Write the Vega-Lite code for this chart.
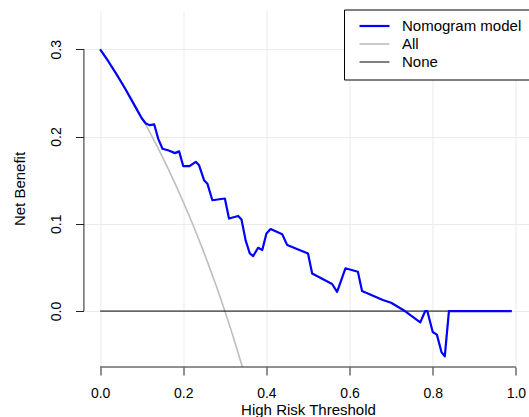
{
  "$schema": "https://vega.github.io/schema/vega-lite/v6.json",
  "width": 449,
  "height": 357,
  "autosize": {"type": "none"},
  "padding": {"left": 83.5, "top": 10, "right": 0, "bottom": 50},
  "background": "white",
  "config": {
    "view": {"stroke": null},
    "font": "Liberation Sans",
    "axis": {
      "domain": false,
      "tickColor": "#222222",
      "tickSize": 8,
      "labelFontSize": 14,
      "labelColor": "#000000",
      "labelFont": "Liberation Sans",
      "titleFont": "Liberation Sans",
      "titleFontSize": 15,
      "titleFontWeight": "normal",
      "titleColor": "#000000",
      "gridColor": "#ebebeb",
      "gridWidth": 1
    },
    "legend": {
      "orient": "none",
      "legendX": 260.5,
      "legendY": -0.5,
      "strokeColor": "#000000",
      "fillColor": "#ffffff",
      "padding": 9,
      "symbolOffset": 14,
      "symbolSize": 100,
      "symbolType": "M-3,0H3",
      "labelFontSize": 15,
      "labelFont": "Liberation Sans",
      "labelColor": "#000000",
      "labelOffset": 20,
      "rowPadding": 2,
      "cornerRadius": 0
    }
  },
  "data": {
    "values": [
      {"series": "All", "t": 0.00, "nb": 0.30000},
      {"series": "All", "t": 0.01, "nb": 0.29293},
      {"series": "All", "t": 0.02, "nb": 0.28571},
      {"series": "All", "t": 0.03, "nb": 0.27835},
      {"series": "All", "t": 0.04, "nb": 0.27083},
      {"series": "All", "t": 0.05, "nb": 0.26316},
      {"series": "All", "t": 0.06, "nb": 0.25532},
      {"series": "All", "t": 0.07, "nb": 0.24731},
      {"series": "All", "t": 0.08, "nb": 0.23913},
      {"series": "All", "t": 0.09, "nb": 0.23077},
      {"series": "All", "t": 0.10, "nb": 0.22222},
      {"series": "All", "t": 0.11, "nb": 0.21348},
      {"series": "All", "t": 0.12, "nb": 0.20455},
      {"series": "All", "t": 0.13, "nb": 0.19540},
      {"series": "All", "t": 0.14, "nb": 0.18605},
      {"series": "All", "t": 0.15, "nb": 0.17647},
      {"series": "All", "t": 0.16, "nb": 0.16667},
      {"series": "All", "t": 0.17, "nb": 0.15663},
      {"series": "All", "t": 0.18, "nb": 0.14634},
      {"series": "All", "t": 0.19, "nb": 0.13580},
      {"series": "All", "t": 0.20, "nb": 0.12500},
      {"series": "All", "t": 0.21, "nb": 0.11392},
      {"series": "All", "t": 0.22, "nb": 0.10256},
      {"series": "All", "t": 0.23, "nb": 0.09091},
      {"series": "All", "t": 0.24, "nb": 0.07895},
      {"series": "All", "t": 0.25, "nb": 0.06667},
      {"series": "All", "t": 0.26, "nb": 0.05405},
      {"series": "All", "t": 0.27, "nb": 0.04110},
      {"series": "All", "t": 0.28, "nb": 0.02778},
      {"series": "All", "t": 0.29, "nb": 0.01408},
      {"series": "All", "t": 0.30, "nb": 0.00000},
      {"series": "All", "t": 0.31, "nb": -0.01449},
      {"series": "All", "t": 0.32, "nb": -0.02941},
      {"series": "All", "t": 0.33, "nb": -0.04478},
      {"series": "All", "t": 0.34, "nb": -0.06061},
      {"series": "All", "t": 0.35, "nb": -0.07692},
      {"series": "None", "t": 0.00, "nb": 0},
      {"series": "None", "t": 0.99, "nb": 0},
      {"series": "Nomogram model", "t": 0.00, "nb": 0.300},
      {"series": "Nomogram model", "t": 0.02, "nb": 0.286},
      {"series": "Nomogram model", "t": 0.04, "nb": 0.271},
      {"series": "Nomogram model", "t": 0.06, "nb": 0.255},
      {"series": "Nomogram model", "t": 0.08, "nb": 0.238},
      {"series": "Nomogram model", "t": 0.10, "nb": 0.221},
      {"series": "Nomogram model", "t": 0.11, "nb": 0.215},
      {"series": "Nomogram model", "t": 0.12, "nb": 0.213},
      {"series": "Nomogram model", "t": 0.13, "nb": 0.214},
      {"series": "Nomogram model", "t": 0.14, "nb": 0.197},
      {"series": "Nomogram model", "t": 0.15, "nb": 0.186},
      {"series": "Nomogram model", "t": 0.165, "nb": 0.184},
      {"series": "Nomogram model", "t": 0.18, "nb": 0.181},
      {"series": "Nomogram model", "t": 0.19, "nb": 0.183},
      {"series": "Nomogram model", "t": 0.20, "nb": 0.166},
      {"series": "Nomogram model", "t": 0.215, "nb": 0.166},
      {"series": "Nomogram model", "t": 0.23, "nb": 0.171},
      {"series": "Nomogram model", "t": 0.238, "nb": 0.167},
      {"series": "Nomogram model", "t": 0.25, "nb": 0.150},
      {"series": "Nomogram model", "t": 0.258, "nb": 0.146},
      {"series": "Nomogram model", "t": 0.27, "nb": 0.127},
      {"series": "Nomogram model", "t": 0.30, "nb": 0.129},
      {"series": "Nomogram model", "t": 0.31, "nb": 0.106},
      {"series": "Nomogram model", "t": 0.332, "nb": 0.109},
      {"series": "Nomogram model", "t": 0.34, "nb": 0.105},
      {"series": "Nomogram model", "t": 0.35, "nb": 0.081},
      {"series": "Nomogram model", "t": 0.36, "nb": 0.066},
      {"series": "Nomogram model", "t": 0.368, "nb": 0.063},
      {"series": "Nomogram model", "t": 0.38, "nb": 0.0725},
      {"series": "Nomogram model", "t": 0.39, "nb": 0.070},
      {"series": "Nomogram model", "t": 0.40, "nb": 0.089},
      {"series": "Nomogram model", "t": 0.41, "nb": 0.094},
      {"series": "Nomogram model", "t": 0.438, "nb": 0.088},
      {"series": "Nomogram model", "t": 0.45, "nb": 0.0756},
      {"series": "Nomogram model", "t": 0.50, "nb": 0.066},
      {"series": "Nomogram model", "t": 0.51, "nb": 0.043},
      {"series": "Nomogram model", "t": 0.558, "nb": 0.031},
      {"series": "Nomogram model", "t": 0.57, "nb": 0.022},
      {"series": "Nomogram model", "t": 0.59, "nb": 0.049},
      {"series": "Nomogram model", "t": 0.62, "nb": 0.045},
      {"series": "Nomogram model", "t": 0.63, "nb": 0.023},
      {"series": "Nomogram model", "t": 0.68, "nb": 0.0126},
      {"series": "Nomogram model", "t": 0.70, "nb": 0.0095},
      {"series": "Nomogram model", "t": 0.73, "nb": 0.001},
      {"series": "Nomogram model", "t": 0.77, "nb": -0.013},
      {"series": "Nomogram model", "t": 0.782, "nb": 0.000},
      {"series": "Nomogram model", "t": 0.787, "nb": 0.000},
      {"series": "Nomogram model", "t": 0.80, "nb": -0.024},
      {"series": "Nomogram model", "t": 0.81, "nb": -0.027},
      {"series": "Nomogram model", "t": 0.821, "nb": -0.047},
      {"series": "Nomogram model", "t": 0.829, "nb": -0.052},
      {"series": "Nomogram model", "t": 0.839, "nb": 0.000},
      {"series": "Nomogram model", "t": 0.99, "nb": 0.000}
    ]
  },
  "layer": [
    {
      "transform": [{"filter": "datum.series !== 'Nomogram model'"}],
      "mark": {"type": "line", "clip": true, "strokeJoin": "round"},
      "encoding": {
        "x": {"field": "t", "type": "quantitative",
              "scale": {"domain": [-0.04, 1.04], "nice": false, "zero": false},
              "axis": {"values": [0, 0.2, 0.4, 0.6, 0.8, 1.0], "format": ".1f", "title": "High Risk Threshold", "labelPadding": 11, "titlePadding": 2, "grid": true}},
        "y": {"field": "nb", "type": "quantitative",
              "scale": {"domain": [-0.0641, 0.345], "nice": false, "zero": false},
              "axis": {"values": [0, 0.1, 0.2, 0.3], "format": ".1f", "title": "Net Benefit", "labelAngle": -90, "labelPadding": 12, "titlePadding": 22, "grid": true}},
        "order": {"field": "t", "type": "quantitative"},
        "color": {"field": "series", "type": "nominal",
                  "scale": {"domain": ["Nomogram model", "All", "None"], "range": ["#0000ff", "#bebebe", "#000000"]},
                  "legend": {"title": null}},
        "strokeWidth": {"field": "series", "type": "nominal",
                  "scale": {"domain": ["Nomogram model", "All", "None"], "range": [2.2, 1, 1]},
                  "legend": {"title": null}}
      }
    },
    {
      "transform": [{"filter": "datum.series === 'Nomogram model'"}],
      "mark": {"type": "line", "clip": true, "strokeJoin": "round"},
      "encoding": {
        "x": {"field": "t", "type": "quantitative",
              "scale": {"domain": [-0.04, 1.04], "nice": false, "zero": false},
              "axis": {"values": [0, 0.2, 0.4, 0.6, 0.8, 1.0], "format": ".1f", "title": "High Risk Threshold", "labelPadding": 11, "titlePadding": 2, "grid": true}},
        "y": {"field": "nb", "type": "quantitative",
              "scale": {"domain": [-0.0641, 0.345], "nice": false, "zero": false},
              "axis": {"values": [0, 0.1, 0.2, 0.3], "format": ".1f", "title": "Net Benefit", "labelAngle": -90, "labelPadding": 12, "titlePadding": 22, "grid": true}},
        "order": {"field": "t", "type": "quantitative"},
        "color": {"field": "series", "type": "nominal",
                  "scale": {"domain": ["Nomogram model", "All", "None"], "range": ["#0000ff", "#bebebe", "#000000"]},
                  "legend": {"title": null}},
        "strokeWidth": {"field": "series", "type": "nominal",
                  "scale": {"domain": ["Nomogram model", "All", "None"], "range": [2.2, 1, 1]},
                  "legend": {"title": null}}
      }
    },
    {
      "data": {"values": [{}]},
      "mark": {"type": "rule", "color": "#222222", "strokeWidth": 1},
      "encoding": {
        "x": {"datum": 0, "type": "quantitative", "scale": {"domain": [-0.04, 1.04], "nice": false, "zero": false},
              "axis": {"values": [0, 0.2, 0.4, 0.6, 0.8, 1.0], "format": ".1f", "title": "High Risk Threshold", "labelPadding": 11, "titlePadding": 2, "grid": true}},
        "x2": {"datum": 1},
        "y": {"datum": -0.0641, "type": "quantitative", "scale": {"domain": [-0.0641, 0.345], "nice": false, "zero": false},
              "axis": {"values": [0, 0.1, 0.2, 0.3], "format": ".1f", "title": "Net Benefit", "labelAngle": -90, "labelPadding": 12, "titlePadding": 22, "grid": true}}
      }
    },
    {
      "data": {"values": [{}]},
      "mark": {"type": "rule", "color": "#222222", "strokeWidth": 1},
      "encoding": {
        "x": {"datum": -0.039, "type": "quantitative", "scale": {"domain": [-0.04, 1.04], "nice": false, "zero": false},
              "axis": {"values": [0, 0.2, 0.4, 0.6, 0.8, 1.0], "format": ".1f", "title": "High Risk Threshold", "labelPadding": 11, "titlePadding": 2, "grid": true}},
        "y": {"datum": 0, "type": "quantitative", "scale": {"domain": [-0.0641, 0.345], "nice": false, "zero": false},
              "axis": {"values": [0, 0.1, 0.2, 0.3], "format": ".1f", "title": "Net Benefit", "labelAngle": -90, "labelPadding": 12, "titlePadding": 22, "grid": true}},
        "y2": {"datum": 0.3}
      }
    }
  ]
}
